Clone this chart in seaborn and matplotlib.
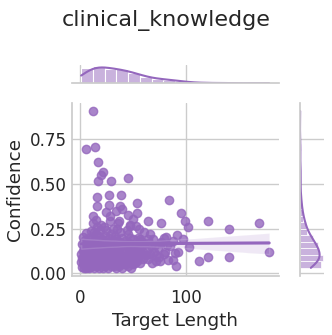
import matplotlib
matplotlib.use("Agg")
import matplotlib.pyplot as plt
import seaborn as sns
import pandas as pd

# ── 데이터: 그림에서 읽은 값 ─────────────────────────────
# 흩어진 점 (위쪽 / 오른쪽)
spread_length = [12, 6, 14, 17, 22, 20, 17, 29, 45, 16, 27, 39, 16, 27, 84,
                 54, 38, 40, 34, 12, 28, 25, 45, 54, 96, 99, 102, 121, 64, 77,
                 141, 169, 179, 113, 121, 141, 103, 83, 88, 91, 90, 92, 81, 77,
                 79, 72, 64, 57, 53, 50, 47, 37, 31]
spread_conf = [0.909, 0.696, 0.709, 0.625, 0.569, 0.550, 0.519, 0.519, 0.534,
               0.425, 0.438, 0.438, 0.379, 0.381, 0.410, 0.394, 0.375, 0.360,
               0.349, 0.323, 0.323, 0.345, 0.326, 0.336, 0.336, 0.295, 0.257,
               0.295, 0.295, 0.282, 0.246, 0.282, 0.119, 0.071, 0.091, 0.091,
               0.147, 0.073, 0.073, 0.043, 0.114, 0.215, 0.201, 0.173, 0.106,
               0.069, 0.192, 0.192, 0.267, 0.304, 0.267, 0.295, 0.248]

# 아래쪽 밀집 구간
cluster_length = [
    1, 2, 2, 3, 3, 4, 4, 4, 5, 5, 5, 6, 6, 6, 7, 7, 7, 7, 8, 8, 8, 8, 9, 9, 9, 9, 10, 10, 10, 1, 3, 5, 8, 2,
    11, 11, 11, 12, 12, 12, 12, 13, 13, 13, 13, 14, 14, 14, 14, 15, 15, 15, 15, 16, 16, 16, 16, 17, 17, 17,
    18, 18, 18, 18, 19, 19, 19, 20, 20, 20, 20, 14,
    21, 21, 21, 22, 22, 22, 23, 23, 23, 23, 24, 24, 24, 25, 25, 25, 25, 26, 26, 26, 27, 27, 27, 28, 28, 28,
    28, 29, 29, 29, 30, 30, 30, 31, 31, 22,
    32, 32, 32, 33, 33, 33, 34, 34, 34, 35, 35, 35, 35, 36, 36, 36, 37, 37, 37, 38, 38, 38, 39, 39, 39, 40,
    40, 40, 41, 41, 42, 42, 36,
    43, 43, 43, 44, 44, 45, 45, 45, 46, 46, 46, 47, 47, 48, 48, 48, 49, 49, 50, 50, 50, 51, 51, 52, 52, 44, 47,
    53, 54, 54, 55, 55, 56, 57, 57, 58, 58, 59, 60, 60, 61, 61, 62, 56,
    63, 64, 65, 66, 67, 68, 69, 70, 71, 72, 66,
    74, 75, 77, 79, 80, 82, 76,
    85, 88, 93, 97]
cluster_conf = [
    0.105, 0.035, 0.165, 0.065, 0.205, 0.03, 0.095, 0.135, 0.045, 0.075, 0.185, 0.03, 0.115, 0.225, 0.055,
    0.085, 0.145, 0.175, 0.03, 0.065, 0.105, 0.195, 0.035, 0.075, 0.125, 0.155, 0.045, 0.095, 0.235, 0.065,
    0.125, 0.105, 0.145, 0.085,
    0.04, 0.10, 0.17, 0.06, 0.12, 0.20, 0.28, 0.03, 0.09, 0.14, 0.23, 0.05, 0.11, 0.16, 0.19, 0.07, 0.13,
    0.22, 0.30, 0.04, 0.08, 0.15, 0.26, 0.06, 0.12, 0.18, 0.03, 0.10, 0.14, 0.21, 0.07, 0.11, 0.24, 0.05,
    0.09, 0.17, 0.27, 0.13,
    0.05, 0.11, 0.19, 0.03, 0.09, 0.15, 0.07, 0.12, 0.18, 0.26, 0.04, 0.10, 0.21, 0.06, 0.13, 0.16, 0.24,
    0.03, 0.08, 0.14, 0.05, 0.11, 0.20, 0.07, 0.10, 0.17, 0.29, 0.04, 0.12, 0.22, 0.06, 0.09, 0.15, 0.08,
    0.18, 0.13,
    0.04, 0.10, 0.16, 0.07, 0.13, 0.21, 0.03, 0.09, 0.19, 0.05, 0.11, 0.15, 0.25, 0.06, 0.12, 0.18, 0.04,
    0.08, 0.14, 0.07, 0.11, 0.23, 0.05, 0.10, 0.17, 0.03, 0.09, 0.20, 0.06, 0.13, 0.08, 0.16, 0.28,
    0.05, 0.12, 0.18, 0.08, 0.15, 0.04, 0.10, 0.22, 0.06, 0.13, 0.17, 0.09, 0.20, 0.03, 0.11, 0.14, 0.07,
    0.16, 0.05, 0.10, 0.19, 0.08, 0.13, 0.06, 0.15, 0.24, 0.27,
    0.11, 0.07, 0.16, 0.13, 0.20, 0.09, 0.06, 0.14, 0.11, 0.18, 0.15, 0.08, 0.12, 0.17, 0.23, 0.10, 0.25,
    0.13, 0.08, 0.17, 0.11, 0.15, 0.06, 0.19, 0.12, 0.16, 0.10, 0.22,
    0.14, 0.09, 0.17, 0.20, 0.12, 0.16, 0.07,
    0.15, 0.18, 0.12, 0.19]

x_ticks = [0, 100]
y_ticks = [0.0, 0.25, 0.5, 0.75]

df = pd.DataFrame({
    "Target Length": spread_length + cluster_length,
    "Confidence": spread_conf + cluster_conf,
})

# ── 그리기 ───────────────────────────────────────────────
sns.set_theme(style="whitegrid", font_scale=1.1)
g = sns.jointplot(data=df, x="Target Length", y="Confidence", kind="reg",
                  color="tab:purple", height=3.32)
g.fig.set_size_inches(3.32, 3.35)

g.ax_joint.set_xticks(x_ticks)
g.ax_joint.set_yticks(y_ticks)
g.ax_joint.set_yticklabels([f"{t:.2f}" for t in y_ticks])
g.ax_joint.tick_params(axis="y", length=0)

# 축 위치 맞추기
g.ax_joint.set_position([0.216, 0.177, 0.623, 0.515])
g.ax_marg_x.set_position([0.216, 0.751, 0.623, 0.055])
g.ax_marg_y.set_position([0.9036, 0.177, 0.073, 0.515])

g.fig.suptitle("clinical_knowledge", fontsize=16, y=0.94, va="center")
g.fig.savefig("out.png", dpi=100)
